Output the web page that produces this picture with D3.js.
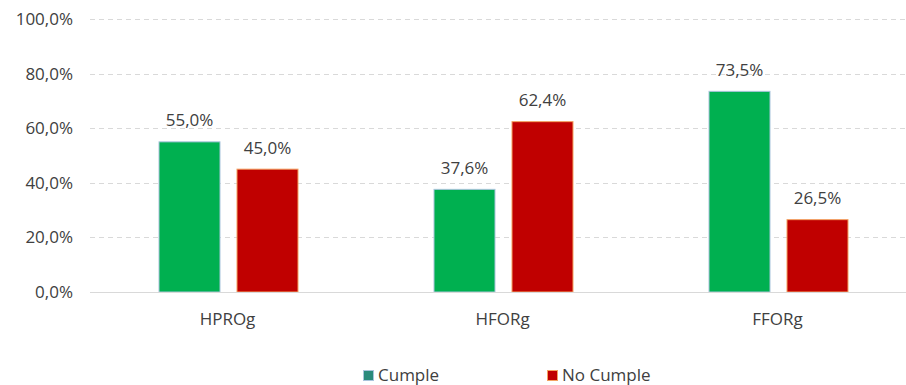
<!DOCTYPE html>
<html><head><meta charset="utf-8">
<script src="https://cdn.jsdelivr.net/npm/d3@7"></script>
<style>body{margin:0;background:#fff;overflow:hidden}svg{display:block}text{font-family:"Open Sans",sans-serif;fill:#404040}</style>
</head><body><svg id="c" width="906" height="385"></svg>
<script>
const categories = ["HPROg", "HFORg", "FFORg"];
const seriesNames = ["Cumple", "No Cumple"];
const cumple = [55.0, 37.6, 73.5];
const noCumple = [45.0, 62.4, 26.5];
const yTicks = [0, 20, 40, 60, 80, 100];

const FS = 17;
const svg = d3.select("#c");
const x0 = 90, x1 = 915, yTop = 19, yBot = 292;
const x = d3.scaleBand().domain(categories).range([x0, x1]).paddingInner(0).paddingOuter(0);
const y = d3.scaleLinear().domain([0, 100]).range([yBot, yTop]);
const inner = d3.scaleBand().domain(seriesNames).range([-69, 71]).paddingInner(0.205);
const fmt = v => d3.format(".1f")(v).replace(".", ",") + "%";

// gridlines
svg.append("g").selectAll("line").data(yTicks.filter(t => t > 0)).join("line")
  .attr("x1", x0).attr("x2", 906).attr("y1", d => Math.round(y(d)) + 0.5).attr("y2", d => Math.round(y(d)) + 0.5)
  .attr("stroke", "#d9d9d9").attr("stroke-width", 1).attr("stroke-dasharray", "5,4");

// y axis labels
const ya = svg.append("g").attr("transform", `translate(${x0},0)`)
  .call(d3.axisLeft(y).tickValues(yTicks).tickSize(0).tickPadding(17).tickFormat(fmt));
ya.select(".domain").remove();
ya.selectAll("text").attr("font-size", FS).attr("fill", "#404040").attr("font-family", "Open Sans");

const data = [cumple, noCumple];
const fills = ["#00b050", "#c00000"];
const strokes = ["#a9c4dc", "#f4a261"];

const g = svg.append("g");
seriesNames.forEach((s, si) => {
  const vals = data[si];
  g.selectAll(".b" + si).data(categories).join("rect")
    .attr("x", d => x(d) + x.bandwidth() / 2 + inner(s) + 0.5)
    .attr("width", inner.bandwidth() - 1)
    .attr("y", (d, i) => y(vals[i]))
    .attr("height", (d, i) => yBot - y(vals[i]))
    .attr("fill", fills[si]).attr("stroke", strokes[si]).attr("stroke-width", 1);
  g.selectAll(".t" + si).data(categories).join("text")
    .attr("x", d => x(d) + x.bandwidth() / 2 + inner(s) + inner.bandwidth() / 2)
    .attr("y", (d, i) => y(vals[i]) - 15.5)
    .attr("text-anchor", "middle").attr("font-size", FS)
    .text((d, i) => fmt(vals[i]));
});

// x axis
svg.append("line").attr("x1", x0).attr("x2", 906).attr("y1", yBot + 0.5).attr("y2", yBot + 0.5).attr("stroke", "#d9d9d9");
const xa = svg.append("g").attr("transform", `translate(0,${yBot})`)
  .call(d3.axisBottom(x).tickSize(0).tickPadding(21));
xa.select(".domain").remove();
xa.selectAll("text").attr("font-size", FS).attr("fill", "#404040").attr("font-family", "Open Sans");

// legend
const legX = [363, 547];
const legFill = ["#2a8a7c", "#c00000"];
const legStroke = ["#a9c4dc", "#f4a261"];
const leg = svg.append("g");
seriesNames.forEach((s, i) => {
  leg.append("rect").attr("x", legX[i] + 0.5).attr("y", 370.5).attr("width", 10).attr("height", 10)
    .attr("fill", legFill[i]).attr("stroke", legStroke[i]).attr("stroke-width", 1);
  leg.append("text").attr("x", legX[i] + 15).attr("y", 381).attr("font-size", FS).text(s);
});
</script></body></html>
